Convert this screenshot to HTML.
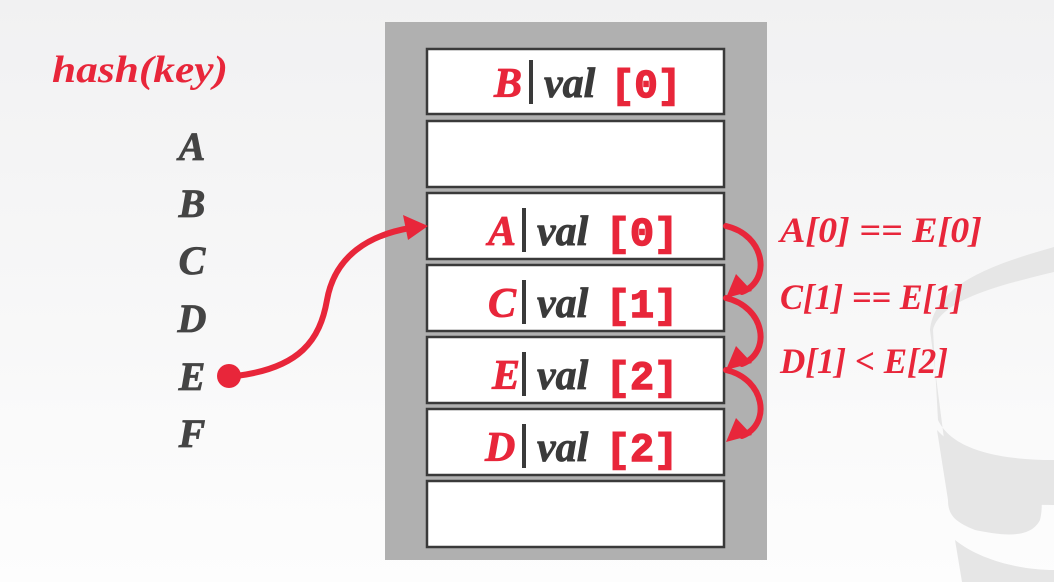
<!DOCTYPE html>
<html><head><style>
html,body{margin:0;padding:0}
body{width:1054px;height:582px;overflow:hidden;background:linear-gradient(#f1f1f2,#fdfdfd)}
svg{display:block}
.s{font-family:"Liberation Serif",serif;font-style:italic;font-weight:bold}
.m{font-family:"Liberation Mono",monospace;font-weight:bold;fill:#e8263a;stroke:#e8263a;stroke-width:1.5}
</style></head><body>
<svg width="1054" height="582" viewBox="0 0 1054 582" xmlns="http://www.w3.org/2000/svg">
<g fill="#e6e6e6">
<path d="M1054 247 C990 265 935 285 930 330 L948 470 C955 500 1000 505 1054 505 L1054 460 C1000 460 952 450 938 420 L933 330 C940 300 1000 285 1054 272Z"/>
<path d="M937 430 C960 455 1000 462 1015 465 C1040 470 1045 500 1040 520 C1030 540 1000 535 975 530 C955 522 948 515 948 500Z"/>
<path d="M955 540 C980 560 1020 570 1054 570 L1054 582 L962 582Z"/>
</g>
<text x="52" y="82" class="s" font-size="38" fill="#e8263a" textLength="176" lengthAdjust="spacingAndGlyphs">hash(key)</text>
<g class="s" font-size="40" fill="#444" stroke="#444" stroke-width="0.8" text-anchor="middle">
<text x="192" y="160">A</text><text x="192" y="217">B</text><text x="192" y="274">C</text>
<text x="192" y="332">D</text><text x="192" y="390">E</text><text x="192" y="447">F</text>
</g>
<rect x="385" y="22" width="382" height="538" fill="#b0b0b0"/>
<g fill="#fff" stroke="#3a3a3a" stroke-width="2.5">
<rect x="427" y="49" width="297" height="65"/>
<rect x="427" y="121" width="297" height="66"/>
<rect x="427" y="193" width="297" height="66"/>
<rect x="427" y="265" width="297" height="66"/>
<rect x="427" y="337" width="297" height="66"/>
<rect x="427" y="409" width="297" height="66"/>
<rect x="427" y="481" width="297" height="66"/>
</g>
<g font-size="42" stroke="#e8263a" stroke-width="0.8">
<text x="494" y="97" class="s" fill="#e8263a">B</text>
<text x="488" y="245" class="s" fill="#e8263a">A</text>
<text x="488" y="317" class="s" fill="#e8263a">C</text>
<text x="492" y="389" class="s" fill="#e8263a">E</text>
<text x="485" y="461" class="s" fill="#e8263a">D</text>
</g>
<g fill="#3a3a3a">
<rect x="529" y="60" width="4" height="44"/>
<rect x="522" y="208" width="4" height="44"/>
<rect x="522" y="280" width="4" height="44"/>
<rect x="522" y="352" width="4" height="44"/>
<rect x="522" y="424" width="4" height="44"/>
</g>
<g class="s" font-size="42" fill="#3a3a3a" stroke="#3a3a3a" stroke-width="0.8">
<text x="544" y="97">val</text>
<text x="537" y="245">val</text>
<text x="537" y="317">val</text>
<text x="537" y="389">val</text>
<text x="537" y="461">val</text>
</g>
<g class="m" font-size="40">
<text x="611" y="97" textLength="70" lengthAdjust="spacingAndGlyphs">[0]</text>
<text x="606" y="245" textLength="72" lengthAdjust="spacingAndGlyphs">[0]</text>
<text x="606" y="317" textLength="72" lengthAdjust="spacingAndGlyphs">[1]</text>
<text x="606" y="389" textLength="72" lengthAdjust="spacingAndGlyphs">[2]</text>
<text x="606" y="461" textLength="72" lengthAdjust="spacingAndGlyphs">[2]</text>
</g>
<g class="s" font-size="36" fill="#e8263a">
<text x="780" y="242" textLength="202" lengthAdjust="spacingAndGlyphs">A[0] == E[0]</text>
<text x="780" y="309" textLength="183" lengthAdjust="spacingAndGlyphs">C[1] == E[1]</text>
<text x="780" y="373" textLength="168" lengthAdjust="spacingAndGlyphs">D[1] &lt; E[2]</text>
</g>
<g fill="none" stroke="#e8263a" stroke-width="6" stroke-linecap="round">
<path d="M236 376 C300 368 320 340 327 300 C335 255 370 235 410 228"/>
<path d="M726 226 C765 235 772 280 742 292"/>
<path d="M726 298 C765 307 772 352 742 364"/>
<path d="M726 370 C765 379 772 424 742 436"/>
</g>
<g fill="#e8263a">
<circle cx="229" cy="376" r="12"/>
<path d="M428 226 L403 215 L408 240Z"/>
<path d="M726 298 L736 274 L752 291Z"/>
<path d="M726 370 L736 346 L752 363Z"/>
<path d="M726 442 L736 418 L752 435Z"/>
</g>
</svg>
</body></html>
